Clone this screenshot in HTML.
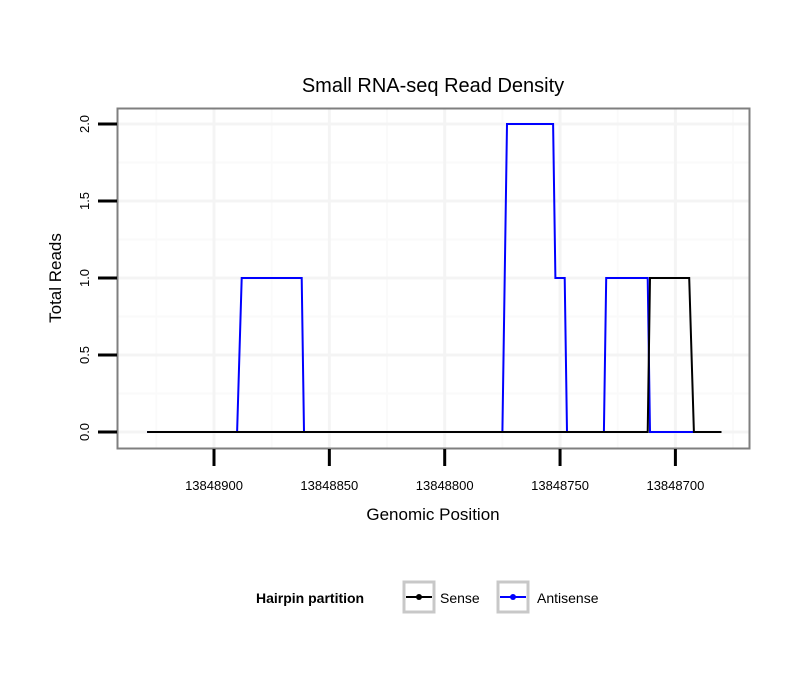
<!DOCTYPE html>
<html><head><meta charset="utf-8"><style>
body{margin:0;background:#fff;}
svg text{font-family:"Liberation Sans",sans-serif;}
</style></head><body>
<svg id="chart" width="810" height="690" xmlns="http://www.w3.org/2000/svg">
<rect width="810" height="690" fill="#fff"/>
<text x="433" y="92" font-size="20" text-anchor="middle">Small RNA-seq Read Density</text>
<g id="grid"></g>
<g id="series"></g>
<rect x="117.5" y="108.5" width="632" height="340" fill="none" stroke="#7f7f7f" stroke-width="2"/>
<g id="axes"></g>
<text x="433" y="520" font-size="17" text-anchor="middle">Genomic Position</text>
<text transform="translate(61,278) rotate(-90)" font-size="17" text-anchor="middle">Total Reads</text>
<g>
<text x="256" y="603" font-size="14" font-weight="bold">Hairpin partition</text>
<g>
<rect x="404" y="582" width="30" height="30" fill="#fff" stroke="#c8c8c8" stroke-width="3"/>
<line x1="406" y1="597" x2="432" y2="597" stroke="#000" stroke-width="2"/>
<circle cx="419" cy="597" r="3" fill="#000"/>
<text x="440" y="603" font-size="14">Sense</text></g>
<g>
<rect x="498" y="582" width="30" height="30" fill="#fff" stroke="#c8c8c8" stroke-width="3"/>
<line x1="500" y1="597" x2="526" y2="597" stroke="#00f" stroke-width="2"/>
<circle cx="513" cy="597" r="3" fill="#00f"/>
<text x="537" y="603" font-size="14">Antisense</text></g>
</g>
</svg>
<script>
const xTicks=[13848900,13848850,13848800,13848750,13848700];
const yTicks=[0,0.5,1.0,1.5,2.0];
const yTickLabels=["0.0","0.5","1.0","1.5","2.0"];
const antisensePos=[13848929,13848890,13848888,13848862,13848861,13848775,13848773,13848753,13848752,13848748,13848747,13848731,13848730,13848712,13848711,13848680];
const antisenseVal=[0,0,1,1,0,0,2,2,1,1,0,0,1,1,0,0];
const sensePos=[13848929,13848712,13848711,13848694,13848692,13848680];
const senseVal=[0,0,1,1,0,0];
const NS="http://www.w3.org/2000/svg";
function xs(p){return 214+(13848900-p)*2.307;}
function ys(v){return 432-v*154;}
function mk(t,a,parent){const e=document.createElementNS(NS,t);for(const k in a)e.setAttribute(k,a[k]);parent.appendChild(e);return e;}
const grid=document.getElementById('grid'),axes=document.getElementById('axes'),series=document.getElementById('series');
for(let i=0;i<xTicks.length+1;i++){const p=xTicks[0]+25-50*i;const x=xs(p);if(x>118&&x<749){const l=mk('line',{x1:x,x2:x,y1:109,y2:448,stroke:'#fafafa','stroke-width':2},grid);}}
for(let i=0;i<yTicks.length;i++){const y=ys(yTicks[i]+0.25);if(y>109){const l=mk('line',{x1:118,x2:749,y1:y,y2:y,stroke:'#fafafa','stroke-width':2},grid);}}
xTicks.forEach(p=>{const x=xs(p);
const g=mk('line',{x1:x,x2:x,y1:109,y2:448,stroke:'#f4f4f4','stroke-width':3},grid);

const t=mk('line',{x1:x,x2:x,y1:449,y2:466,stroke:'#000','stroke-width':3},axes);

const tx=mk('text',{x:x,y:490,'font-size':13,'text-anchor':'middle'},axes);tx.textContent=p;
});
yTicks.forEach((v,i)=>{const y=ys(v);
const g=mk('line',{x1:118,x2:749,y1:y,y2:y,stroke:'#f4f4f4','stroke-width':3},grid);

const t=mk('line',{x1:98,x2:117,y1:y,y2:y,stroke:'#000','stroke-width':3},axes);

const tx=mk('text',{transform:`translate(89,${y}) rotate(-90)`,'font-size':13,'text-anchor':'middle'},axes);tx.textContent=yTickLabels[i];
});
function path(pos,val){return pos.map((p,i)=>(i?'L':'M')+xs(p).toFixed(1)+','+ys(val[i]).toFixed(1)).join(' ');}
const a=mk('path',{d:path(antisensePos,antisenseVal),fill:'none',stroke:'#00f','stroke-width':2},series);

const s=mk('path',{d:path(sensePos,senseVal),fill:'none',stroke:'#000','stroke-width':2},series);

</script>
</body></html>
